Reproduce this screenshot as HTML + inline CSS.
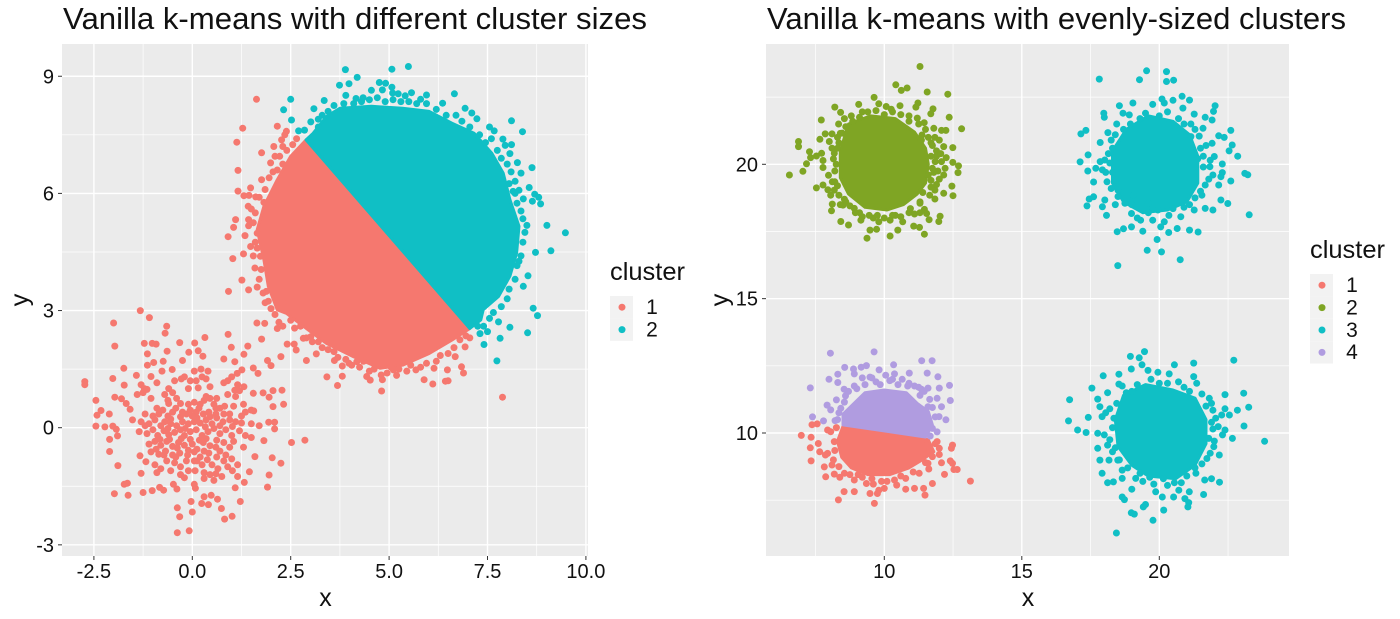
<!DOCTYPE html>
<html><head><meta charset="utf-8"><title>Vanilla k-means charts</title>
<style>html,body{margin:0;padding:0;background:#fff}svg{display:block}text{font-family:"Liberation Sans",sans-serif;fill:#111}</style>
</head><body>
<svg id="chart" xmlns="http://www.w3.org/2000/svg" width="1400" height="619" viewBox="0 0 1400 619"></svg>
<script>
const leftXTicks=[-2.5,0,2.5,5,7.5,10];
const leftXTickLabels=["-2.5","0.0","2.5","5.0","7.5","10.0"];
const leftXMinor=[-1.25,1.25,3.75,6.25,8.75];
const leftYTicks=[-3,0,3,6,9];
const leftYMinor=[-1.5,1.5,4.5,7.5];
const rightXTicks=[10,15,20];
const rightXMinor=[7.5,12.5,17.5,22.5];
const rightYTicks=[10,15,20];
const rightYMinor=[7.5,12.5,17.5,22.5];

const leftCoreRed=[[2.89,7.37],[7.05,2.54],[6.59,2.24],[6.02,1.9],[5.34,1.6],[4.77,1.52],[4.09,1.82],[3.41,2.16],[2.95,2.5],[2.39,2.93],[2.16,3.02],[1.93,3.62],[1.82,4.3],[1.65,5.07],[1.82,5.67],[2.16,6.35],[2.5,6.95]];
const leftCoreTeal=[[2.89,7.37],[3.07,7.54],[3.41,7.97],[3.75,8.18],[4.55,8.23],[5.34,8.18],[6.02,8.1],[6.59,7.8],[7.16,7.54],[7.61,7.03],[7.9,6.52],[8.07,5.84],[8.3,5.16],[8.24,4.47],[8.07,3.88],[7.78,3.36],[7.39,3.02],[7.33,2.76],[7.05,2.54]];
const leftTealPoints=[[3.89,9.17],[5.07,9.18],[5.49,9.25],[4.19,8.97],[3.74,8.77],[3.98,8.81],[4.75,8.84],[4.91,8.82],[4.83,8.65],[5.07,8.72],[4.55,8.64],[5.09,8.57],[5.23,8.55],[5.57,8.58],[5.41,8.5],[5.95,8.52],[6.66,8.55],[3.9,8.51],[4.16,8.43],[4.34,8.45],[3.35,8.38],[2.5,8.41],[2.32,8.14],[3.09,8.17],[2.52,7.88],[3.01,7.83],[5.8,8.41],[6.36,8.31],[6.93,8.18],[7.1,8.06],[7.23,7.91],[8.11,7.86],[7.55,7.7],[7.67,7.6],[8.39,7.58],[7.89,7.39],[8.11,7.25],[7.95,7.23],[8.07,7.02],[8.26,6.79],[8.63,6.66],[8.35,6.52],[8.2,6.31],[8.56,6.15],[8.3,6.08],[8.15,6.05],[8.7,5.98],[8.8,5.9],[8.64,5.8],[8.85,5.73],[8.41,5.86],[9.01,5.18],[8.5,5.18],[9.48,4.99],[9.11,4.53],[8.72,4.49],[8.3,4.26],[8.53,3.89],[8.41,3.62],[8.66,3.06],[8.77,2.87],[7.78,2.71],[8.07,2.57],[8.52,2.43],[7.82,2.29],[7.41,2.13],[7.74,1.71],[7.31,2.41],[7.5,2.46],[2.7,7.6],[2.85,7.62],[3.2,7.7]];
const leftTealEdgePoints=[[3.2,7.9],[3.3,8],[3.45,8.1],[3.6,8.25],[3.85,8.3],[4.1,8.3],[4.3,8.35],[4.5,8.4],[4.7,8.45],[4.9,8.35],[5.1,8.4],[5.3,8.35],[5.5,8.35],[5.7,8.3],[5.95,8.3],[6.2,8.15],[6.45,8],[6.7,8],[6.85,7.85],[7.05,7.7],[7.3,7.5],[7.45,7.3],[7.6,7.4],[7.75,7.1],[7.85,6.9],[8,6.75],[8.1,6.55],[8.05,6.25],[8.2,6],[8.25,5.75],[8.35,5.55],[8.4,5.35],[8.45,5],[8.4,4.75],[8.35,4.4],[8.25,4.15],[8.2,3.8],[8.05,3.55],[8,3.3],[7.85,3.1],[7.65,2.95],[7.55,2.8],[7.4,2.6],[7.25,2.6]];
const leftRedPoints=[[1.63,8.41],[1.28,7.67],[2.16,7.72],[1.13,7.31],[2.39,7.59],[2.27,7.37],[2.07,7.2],[1.76,7.04],[2.22,6.95],[1.16,6.59],[1.99,6.78],[2.16,6.6],[1.76,6.35],[1.16,6.06],[1.31,5.94],[1.48,6.14],[1.44,5.95],[1.61,5.91],[1.42,5.67],[1.82,5.77],[1.1,5.33],[1.05,5.13],[1.43,5.33],[1.43,5.17],[0.91,4.89],[1.34,4.92],[1.48,4.64],[1.3,4.45],[1.03,4.33],[1.65,4.98],[1.73,4.39],[1.59,4.09],[1.26,3.78],[1.43,3.53],[0.92,3.49],[1.88,3.49],[1.93,3.24],[1.64,2.68],[1.84,2.67],[2.16,2.54],[1.76,2.27],[1.41,2.09],[2.25,1.82],[1.91,1.72],[2,1.59],[2.41,2.14],[2.59,2.14],[2.64,1.99],[2.9,1.72],[3.15,1.89],[2.82,2.29],[3.01,2.33],[3.61,1.72],[3.81,1.58],[3.98,1.65],[4.18,1.69],[3.42,1.3],[3.81,1.32],[3.69,1.08],[4.43,1.31],[4.52,1.22],[4.83,1.23],[4.81,0.94],[5.19,1.34],[5.89,1.23],[6.11,1.12],[6.43,1.19],[6.5,1.2],[6.14,1.52],[6.48,1.48],[6.84,1.56],[6.89,1.4],[6.68,1.82],[6.93,2.07],[7.88,0.78],[5.11,1.48],[5.68,1.48]];
const leftRedEdgePoints=[[2.3,3.2],[2.1,2.9],[2.2,2.7],[2.3,2.6],[2.5,2.75],[2.6,2.55],[2.75,2.6],[2.9,2.3],[3.05,2.2],[3.2,2.2],[3.3,2.05],[3.45,2],[3.6,1.95],[3.7,1.8],[3.9,1.75],[4.05,1.6],[4.25,1.55],[4.35,1.7],[4.5,1.45],[4.62,1.5],[4.8,1.35],[4.95,1.4],[5.05,1.55],[5.25,1.5],[5.45,1.45],[5.55,1.6],[5.8,1.55],[5.95,1.65],[6.2,1.7],[6.3,1.85],[6.5,1.9],[6.65,2.05],[6.8,2.25],[6.95,2.35],[7.05,2.3],[1.75,4.05],[1.7,3.8],[1.8,3.45],[1.85,3.2],[2,3.05],[1.65,4.6],[1.6,4.75],[1.55,5.25],[1.6,5.5],[1.7,5.9],[1.85,6.1],[1.95,6.4],[2.05,6.55],[2.3,6.75],[2.4,7.1],[2.55,7.25],[2.65,7.4],[2.35,7.5],[2.3,7.2],[2.1,6.95],[1.5,5.6],[1.55,4.4],[1.65,3.6]];
const leftGaussianPoints=[[-2.73,1.1],[-2.73,1.18],[-2.45,.7],[-2.32,.44],[-2.42,.32],[-2.11,.35],[-2.45,.04],[-2.22,.02],[-2.02,.04],[-1.93,-.04],[-2.1,-.3],[-1.9,-.21],[-2.1,-.61],[-1.89,-.97],[-1.73,-1.45],[-1.65,-1.42],[-1.98,-1.69],[-1.63,-1.73],[-1.25,-1.66],[-1.02,-1.61],[-.83,-1.53],[-.73,-1.6],[-.39,-1.57],[-.48,-1.45],[.08,-1.55],[-.38,-2.05],[-.32,-2.28],[0,-2.16],[-.03,-1.89],[-.38,-2.69],[-.08,-2.64],[.24,-1.94],[.41,-1.97],[.3,-1.77],[.48,-1.73],[.64,-1.83],[.74,-2.07],[.82,-2.34],[1.01,-2.27],[1.22,-1.89],[1.09,-1.54],[1.32,-1.4],[1.91,-1.52],[1.95,-1.21],[1.45,-1.13],[2.25,-.91],[2.03,-.77],[1.59,-.74],[1.82,-.33],[2.52,-.38],[2.86,-.32],[2.09,-.03],[1.94,.14],[2.09,.14],[2.32,.6],[2.05,.54],[2.28,.96],[2.05,.95],[1.8,.89],[1.95,.78],[1.55,.88],[1.56,.43],[1.31,1.05],[1.08,.96],[1.26,1.48],[1.14,1.39],[1.55,1.53],[1.67,1.39],[1.31,1.88],[1.08,1.69],[.8,1.76],[.99,2.06],[.91,2.39],[.32,2.31],[.06,2.17],[-.32,2.18],[-.09,1.93],[.15,1.97],[.27,1.83],[-.25,1.72],[-.64,1.96],[-1.14,1.89],[-1.22,2.16],[-1.02,2.16],[-.92,2.14],[-1.32,3],[-1.09,2.82],[-.65,2.6],[-.69,2.42],[-2,2.68],[-1.97,2.09],[-1.74,1.52],[-2.02,1.26],[-1.73,1.09],[-1.97,.78],[-1.8,.74],[-1.68,.62],[-1.58,.47],[-1.52,.2],[-1.42,1.34],[-1.14,1.6],[-.98,1.67],[-.74,1.7],[-1.05,1.31],[-.77,1.45],[-.51,1.49],
[-1.3,1.1],[-1.22,1],[-1.15,.98],[-1.25,.9],[-.9,1.15],[-.6,1],[-.45,1.2],[-.28,1.25],[-.2,1.3],[-.05,1.2],[.1,1.2],[.25,1.3],[.35,1.25],[.05,1.45],[.22,1.5],[.4,1.45],[-.1,1],[.15,1.02],[.45,1.05],[.9,1.2],[1,1.3],[1.15,1.1],[.8,1.15],[-1.4,.85],[-1.05,.75],[-.7,.85],[-.5,.9],[-.4,.75],[-.62,.7],[-.3,.62],[-.1,.6],[.05,.65],[.2,.6],[.35,.8],[.45,.75],[.55,.6],[.7,.5],[.9,.85],[1.1,.8],[1.3,.6],[1.35,.4],[1.5,.45],[1.25,.3],[.95,.35],[.8,.35],[.6,.35],[.42,.4],[.28,.35],[.1,.4],[0,.3],[-.15,.35],[-.25,.4],[-.5,.4],[-.62,.3],[-.85,.35],[-1,.3],[-1.2,.35],[-1.3,.15],[-1.1,.1],[-.95,.2],[-.8,.05],[-.7,.15],[-.55,.1],[-.4,.05],[-.25,.15],[-.1,.1],[.05,.15],[.2,.12],[.35,.2],[.5,.1],[.62,.25],[.78,.15],[.95,.2],[1.1,.15],[1.25,.12],[1.5,.1],[1.7,.05],[-1.35,-.1],[-1.15,-.15],[-1,-.05],[-.88,-.2],[-.72,-.08],[-.6,-.18],[-.45,-.12],[-.3,-.05],[-.2,-.2],[-.05,-.1],[.1,-.05],[.25,-.2],[.4,-.1],[.55,-.02],[.7,-.15],[.85,-.05],[1,-.2],[1.2,-.08],[1.35,-.2],[1.5,-.25],[-1.1,-.42],[-.95,-.35],[-.8,-.45],[-.65,-.35],[-.5,-.48],[-.35,-.38],[-.2,-.45],[0,-.42],[.12,-.55],[.28,-.38],[.45,-.46],[.6,-.5],[.8,-.38],[1.05,-.35],[1.3,-.5],[-1.05,-.62],[-.85,-.68],[-.68,-.6],[-.5,-.7],[-.32,-.65],[-.12,-.7],[.05,-.62],[.2,-.75],[.42,-.65],[.62,-.75],[.85,-.7],[1,-.8],[-1.33,-.72],[-1.18,-.87],[-.95,-.95],[-.8,-1.05],[-.65,-.85],[-.45,-.9],[-.3,-1],[-.15,-.85],[.05,-.85],[.25,-.95],[.5,-.95],[.65,-1.05],[.9,-1],[1.15,-.95],[-1.3,-1.17],[-.9,-1.15],[-.55,-1.1],[-.3,-1.2],[-.2,-1.28],[-.1,-1.1],[.07,-1.1],[.3,-1.15],[.45,-1.2],[.6,-1.18],[.75,-1.25],[1.02,-1.1],[1.15,-1.25],[.3,-1.3],[.55,-1.35],[.05,-1.45],
[-.75,.45],[-.42,.5],[-.05,.45],[.17,.5],[.6,.5],[.82,.55],[1.05,.55],[-.9,.5],[-.82,-.3],[-.58,-.3],[-.28,-.28],[-.05,-.3],[.18,-.32],[.35,-.28],[.62,-.32],[.95,-.5],[-.92,-.55],[-.72,-.7],[-.38,-.52],[-.1,-.58],[.3,-.6],[.7,-.6],[-.55,.22],[-.3,.28],[.12,.25],[.45,.28],[.7,.05],[1.02,.03],[-.18,-.02],[.33,.02],[-.62,-.02],[-1.2,.05],[-.42,-.75],[.12,-.85],[.38,-.82],[.8,-.85],[-.6,.62],[.3,.7],[.62,.75],[1.2,.95]];

const rightCoreGreen=[[8.7,21.5],[9.5,21.8],[10.4,21.7],[11.1,21.2],[11.5,20.6],[11.6,20],[11.5,19.3],[11.2,18.9],[10.7,18.5],[10.1,18.3],[9.3,18.4],[8.7,18.9],[8.4,19.5],[8.4,20.5]];
const rightGreenPoints=[[11.3,23.64],[10.42,22.96],[10.83,22.84],[10.62,22.75],[11.56,22.69],[12.31,22.61],[9.63,22.49],[9.8,22.25],[9.07,22.23],[8.2,22.13],[10.07,22.15],[10.57,22.18],[11.22,22.28],[11.15,22.13],[11.77,22.06],[11.69,21.88],[8.41,21.93],[7.71,21.65],[12.36,21.75],[8.34,21.5],[11.2,21.72],[12.81,21.32],[11.8,21.34],[12.08,21.26],[12.24,21.26],[7.85,21.13],[8.1,21.13],[7.66,20.93],[8.47,21.16],[6.88,20.85],[6.88,20.66],[11.37,21.09],[11.84,21],[12.16,20.66],[12.49,20.62],[7.28,20.47],[7.72,20.41],[7.53,20.31],[7.32,20.25],[7.17,20.02],[7.77,20.14],[8.1,20.6],[8.18,20.41],[12.49,20.07],[12.7,19.94],[12.68,19.69],[12.08,20.1],[12.21,19.85],[12.16,19.6],[6.55,19.6],[7.04,19.74],[7.97,19.59],[7.77,19.88],[8.11,19.35],[7.53,19.12],[7.77,19.23],[8.18,19.04],[12.46,19.19],[12.5,18.83],[11.84,19.04],[12.16,18.92],[11.84,18.71],[8.11,18.52],[8.08,18.27],[8.5,18.48],[8.91,18.36],[11.46,18.32],[11.54,18.17],[12.03,18.07],[11.63,17.94],[11.98,17.87],[8.42,17.87],[8.7,17.74],[9.15,17.92],[9.8,17.86],[10.21,17.92],[10.67,17.86],[11.07,17.7],[11.28,17.65],[9.48,17.55],[9.72,17.58],[10.49,17.55],[11.46,17.4],[9.37,17.25],[10.21,17.33],[8.3,21],[8.25,20],[8.3,19.2],[8.6,18.6],[9.1,18.2],[9.6,18],[10.4,18.1],[10.9,18.2],[11.3,18.6],[11.7,19.4],[11.8,19.7],[11.9,20.3],[11.7,20.8],[11.5,21.3],[10.9,21.6],[10.3,21.95],[9.2,21.95],[8.8,21.8],
[11.6,21],[11.75,20.7],[11.9,20.5],[12,20.9],[11.7,20.3],[11.85,20.1],[11.95,19.75],[12,19.45],[11.7,19.15],[11.65,18.85],[11.3,18.55],[11.1,18.15],[10.95,18.35],[10.6,18.05],[10.3,18.1],[10,18],[9.75,18.1],[9.45,18.1],[9.2,18.05],[8.95,18.2],[8.75,18.45],[8.55,18.7],[8.35,18.85],[8.2,19.35],[8.2,19.75],[8.15,20.2],[8.35,20.8],[8.4,21.15],[8.6,21.4],[8.55,21.7],[8.85,21.6],[9.1,21.75],[9.4,21.95],[9.7,22],[10,21.85],[10.25,22.05],[10.6,21.85],[10.9,21.8],[11.25,21.5],[11.45,21.55],[11.35,20.9],[12.05,20.4],[11.75,19.85],[11.6,19.6],[11.9,19.25],[11.4,18.95],[12.25,20.25],[11.3,18.2],[8,20.85],[8.3,20.6],[8.4,18.5],[7.95,19.05],[8.05,18.85]];
const rightCoreTealTop=[[18.8,21.3],[19.6,21.8],[20.5,21.6],[21.1,21.1],[21.4,20.3],[21.4,19.3],[21,18.6],[20.3,18.3],[19.4,18.2],[18.7,18.6],[18.3,19.3],[18.3,20.5]];
const rightTealTopPoints=[[17.82,23.17],[19.54,23.48],[19.28,23.15],[20.26,23.45],[20.26,23.08],[20.52,23.13],[20.83,22.53],[21.1,22.39],[20.1,22.43],[20.5,22.38],[22.03,22.18],[18.55,22.18],[19.04,22.28],[19.76,22.23],[20.18,22.28],[20.86,22.09],[18.68,21.9],[17.98,21.9],[18,21.75],[18.91,21.84],[21.27,21.87],[21.97,21.97],[21.67,21.75],[21.92,21.65],[22.6,21.26],[21.59,21.34],[17.33,21.26],[17.15,21.13],[22.16,21.06],[22.36,21],[21.15,21.03],[18.13,21.18],[17.85,20.81],[21.92,20.78],[22.65,20.72],[22.54,20.5],[17.41,20.35],[17.12,20.09],[18.02,20.16],[22.85,20.3],[22,20.29],[17.4,19.75],[17.69,19.85],[17.93,19.79],[22.29,20.01],[21.84,19.91],[23.11,19.66],[23.22,19.61],[22.29,19.69],[22.6,19.38],[17.61,19.34],[18.1,19.35],[22.24,19.54],[21.67,19.23],[22.16,19.23],[17.61,18.79],[17.45,18.71],[17.37,18.45],[18.02,18.67],[17.93,18.42],[18.5,19.04],[22.24,18.67],[22.49,18.54],[21.95,18.3],[21.27,18.3],[21.67,18.36],[18.08,18.1],[23.27,18.12],[18.99,18.17],[19.32,17.92],[19.76,17.92],[20.18,17.86],[20.78,18.05],[18.47,17.49],[18.7,17.6],[18.99,17.67],[19.4,17.51],[20.05,17.67],[20.34,17.46],[20.65,17.61],[21.1,17.55],[21.41,17.48],[19.92,17.2],[19.56,16.8],[20.08,16.74],[20.76,16.45],[18.49,16.23],[18.7,21.3],[19.3,21.7],[20,21.8],[20.7,21.7],[21.3,21.3],[21.5,20.6],[21.6,19.9],[21.5,19],[21.1,18.5],[20.5,18.35],[19.6,18.2],[19,18.5],[18.5,18.8],[18.3,19.7],[18.3,20.6],
[21.45,21.05],[21.7,20.7],[21.6,20.3],[21.85,20.15],[21.95,19.6],[21.8,19.45],[21.55,18.85],[21.3,18.75],[20.9,18.4],[20.35,18.1],[19.95,18.3],[19.6,18.55],[19.2,18],[19.05,18.85],[18.75,18.55],[18.4,18.5],[18.25,19.1],[18.05,19.7],[18.2,20.05],[18.25,20.9],[18.4,21.1],[18.45,21.5],[18.95,21.5],[19.5,21.9],[20.3,21.95],[20.9,21.5],[21.15,21.5],[21.4,20.2],[18.15,20.4],[18.4,19.4],[17.85,20.1]];
const rightCoreTealBottom=[[18.7,11.4],[19.5,11.8],[20.5,11.6],[21.3,11.3],[21.7,10.5],[21.7,9.6],[21.3,8.8],[20.6,8.3],[19.6,8.4],[19,8.8],[18.5,9.5],[18.4,10.5]];
const rightTealBottomPoints=[[19.46,13.03],[18.95,12.85],[19.27,12.8],[20.55,12.54],[21.25,12.6],[22.71,12.71],[19.37,12.54],[18.98,12.38],[17.96,12.13],[18.53,12.19],[19.59,12.33],[19.95,12.26],[20.36,12.2],[21.25,12.1],[18.53,11.82],[21.36,11.85],[17.55,11.67],[23.07,11.48],[22.39,11.43],[16.74,11.24],[18.12,11.5],[21.82,11.29],[17.76,11.26],[23.25,10.96],[22.84,10.85],[22.39,10.9],[22.55,10.67],[22.27,10.67],[17.84,10.98],[17.92,10.61],[17.42,10.58],[16.7,10.45],[23.08,10.26],[22.14,10.24],[22.39,10.11],[17.03,10.11],[17.34,10.02],[17.76,9.99],[18,9.93],[22.66,9.8],[22.3,9.93],[23.83,9.69],[17.76,9.43],[18.12,9.55],[21.98,9.49],[22.18,9.18],[17.84,8.99],[18.17,8.99],[18.49,8.99],[21.73,9.05],[17.92,8.5],[18.65,8.62],[18.12,8.15],[18.33,8.18],[18.65,8.31],[22.19,8.17],[21.9,8.3],[21.65,8.25],[21.33,8.5],[19,7.91],[19.14,8.31],[18.65,7.62],[18.73,7.52],[19.87,7.81],[20.11,7.62],[20.52,7.62],[20.71,7.87],[21.61,7.71],[21.09,7.81],[20.93,7.56],[21.07,7.41],[21.04,7.25],[19.42,7.25],[19.5,7.34],[18.98,7.03],[19.09,6.98],[20.16,7.13],[19.77,6.75],[18.44,6.28],[19.8,8.1],[20.3,8.05],[20.8,8.15],[19.4,8.2],[21.8,9.8],[21.9,10.4],[21.7,11],[18.3,9.3],[18.3,10.2],[18.2,10.9],[18.8,11.5],[19.2,11.8],[20,11.85],[20.9,11.7],
[21.55,11.45],[21.9,11.1],[22.05,10.55],[21.95,10.15],[22,9.7],[21.85,9.25],[21.55,8.85],[21.3,8.7],[21,8.4],[20.55,8.15],[20.15,8.3],[19.65,8.35],[19.3,8.5],[18.85,8.7],[18.55,9],[18.4,9.45],[18.2,9.75],[18.35,10.55],[18.05,10.75],[18.45,11.1],[18.65,11.75],[19,11.55],[19.7,12],[20.3,11.85],[20.7,11.9],[21.1,11.55],[21.95,10.85]];
const rightCorePurple=[[8.5,10.3],[11.5,9.85],[11.75,10.3],[11.6,10.8],[11.2,11.1],[10.8,11.5],[10,11.6],[9.3,11.5],[8.8,11],[8.5,10.7]];
const rightPurplePoints=[[8.04,12.97],[9.63,13.02],[11.36,12.69],[11.74,12.69],[10.34,12.54],[9.35,12.51],[9.16,12.45],[8.56,12.44],[8.88,12.38],[8.91,12.2],[8.31,12.19],[9.81,12.35],[10.91,12.23],[11.56,12.23],[11.95,12.09],[10.37,12.2],[9.48,12.08],[7.99,12],[8.31,11.88],[7.31,11.68],[12.37,11.77],[12,11.67],[8.54,11.63],[8.91,11.75],[11.1,11.75],[11.59,11.67],[11.35,11.63],[8.59,11.38],[8.26,11.23],[11.92,11.29],[12.4,11.21],[7.92,11.04],[8.05,10.86],[8.42,10.92],[12.08,10.98],[11.59,10.98],[7.39,10.6],[7.79,10.45],[8.21,10.46],[12.24,10.49],[11.99,10.61],[11.92,10.04],[11.75,10.17],[11.67,9.89],[9.7,11.9],[10.3,12],[10.5,11.8],[9.3,11.8],[11.3,11.4],[10.9,11.85],
[9.2,12.05],[9.55,12.05],[10.05,12.15],[10.2,11.95],[10.65,12],[10.85,11.75],[11.45,11.55],[11.65,11.25],[11.75,10.95],[11.85,10.6],[8.55,11.15],[8.7,11.55],[9,11.65],[8.35,10.75],[8.3,10.5],[9.85,11.8],[11.25,11.7]];
const rightCoreRed=[[8.5,10.25],[9,10.25],[11.6,9.75],[11.8,9.3],[11.3,8.95],[10.9,8.7],[10.2,8.45],[9.4,8.45],[8.8,8.7],[8.45,9.1],[8.3,9.7]];
const rightRedPoints=[[7.37,10.31],[7.56,10.34],[6.98,9.91],[7.34,9.84],[7.94,10.11],[8.26,10.2],[7.6,9.61],[7.31,9.45],[7.65,9.3],[7.94,9.24],[7.34,8.96],[8.18,9.68],[7.86,9.18],[7.82,8.74],[8.1,8.81],[7.87,8.37],[8.18,8.47],[8.38,8.35],[8.91,8.25],[9.35,8.12],[8.54,7.82],[8.91,7.82],[9.48,7.75],[9.8,7.87],[10,7.94],[8.33,7.51],[9.64,7.38],[10.37,8.25],[10.78,8.31],[10.45,8.06],[10.78,7.91],[11.1,7.94],[11.43,7.94],[11.48,7.69],[11.75,8.12],[12.19,8.46],[12.53,8.64],[12.65,8.64],[13.13,8.21],[12.08,8.89],[12.4,8.96],[12.48,8.87],[12.48,9.55],[12.44,9.43],[11.92,9.68],[12,9.43],[11.75,9.12],[11.59,8.87],[11.62,8.66],[11.27,8.5],[11.43,9.24],[9.6,8.1],[9.9,8.2],[9.2,8.35],[9.75,7.75],
[8.05,10.05],[8.2,9.35],[8.15,9],[8.35,8.75],[8.55,8.5],[8.75,8.45],[9.05,8.45],[9.55,8.3],[10.1,8.2],[10.6,8.4],[11.05,8.55],[11.5,8.9],[11.65,9.4],[11.85,9.6],[11.55,9.55],[12,9.2]];

const leftLegendLabels=["1","2"];
const rightLegendLabels=["1","2","3","4"];
const leftTitle="Vanilla k-means with different cluster sizes";
const rightTitle="Vanilla k-means with evenly-sized clusters";

const RED="#F5786F",TEAL="#10BFC5",GREEN="#7FA524",PURPLE="#B09CE0";
const svg=document.getElementById('chart');
const NS="http://www.w3.org/2000/svg";
function mk(tag,attrs,name,parent){
  const el=document.createElementNS(NS,tag);
  for(const k in attrs)el.setAttribute(k,attrs[k]);
  
  
  (parent||svg).appendChild(el);
  return el;
}
function label(txt,x,y,size,anchor,name,len,parent){
  const a={x:x,y:y,'font-size':size,'text-anchor':anchor};
  if(len){a.textLength=len;a.lengthAdjust='spacingAndGlyphs';}
  const t=mk('text',a,name,parent);
  t.textContent=txt;
  return t;
}
function panel(p){
  const g=mk('g',{},p.id+'-plot');
  const sx=v=>p.x0+(v-p.xa)*p.xk, sy=v=>p.y0-(v-p.ya)*p.yk;
  mk('rect',{x:p.l,y:p.t,width:p.r-p.l,height:p.b-p.t,fill:'#ebebeb'},p.id+'-panel-background',g);
  p.xMinor.forEach(v=>mk('line',{x1:sx(v),x2:sx(v),y1:p.t,y2:p.b,stroke:'#fff','stroke-width':.7},'x-minor-gridline',g));
  p.yMinor.forEach(v=>mk('line',{x1:p.l,x2:p.r,y1:sy(v),y2:sy(v),stroke:'#fff','stroke-width':.7},'y-minor-gridline',g));
  p.xTicks.forEach((v,i)=>{
    mk('line',{x1:sx(v),x2:sx(v),y1:p.t,y2:p.b,stroke:'#fff','stroke-width':1.4},'x-major-gridline',g);
    mk('line',{x1:sx(v),x2:sx(v),y1:p.b,y2:p.b+4,stroke:'#333','stroke-width':1},'x-tick',g);
    label(p.xLabels[i],sx(v),578,20,'middle','x-tick-label',null,g);
  });
  p.yTicks.forEach(v=>{
    mk('line',{x1:p.l-4,x2:p.l,y1:sy(v),y2:sy(v),stroke:'#333','stroke-width':1},'y-tick',g);
    mk('line',{x1:p.l,x2:p.r,y1:sy(v),y2:sy(v),stroke:'#fff','stroke-width':1.4},'y-major-gridline',g);
    label(String(v),p.l-8,sy(v)+7,20,'end','y-tick-label',null,g);
  });
  p.core.forEach(c=>{
    const d=c[0].map((q,i)=>(i?'L':'M')+sx(q[0]).toFixed(1)+' '+sy(q[1]).toFixed(1)).join('')+'Z';
    mk('path',{d:d,fill:c[1],stroke:c[1],'stroke-width':3,'stroke-linejoin':'round'},'dense-cluster-core',g);
  });
  p.points.forEach(s=>s[0].forEach(q=>{
    mk('circle',{cx:sx(q[0]).toFixed(1),cy:sy(q[1]).toFixed(1),r:3.5,fill:s[1]},'cluster-point',g);
  }));
  label('x',p.xTitleX,606,25,'middle','x-axis-title',null,g);
  const yt=label('y',0,0,25,'middle','y-axis-title',null,g);
  yt.setAttribute('transform','translate('+p.yTitleX+',300) rotate(-90)');
  label(p.title,p.titleX,29,31,'start','chart-title',p.titleLen,g);
  label('cluster',p.legX,p.legBase,25,'start','legend-title',75,g);
  const kh=22.4;
  p.legLabels.forEach((s,i)=>{
    const top=p.legTop+i*kh;
    mk('rect',{x:p.legX,y:top,width:23,height:kh,fill:'#f2f2f2'},'legend-key',g);
    mk('circle',{cx:p.legX+12,cy:top+kh/2,r:3.5,fill:p.legColors[i]},'legend-dot',g);
    label(s,p.legX+42,top+18,21,'middle','legend-label',null,g);
  });
}
panel({id:'left',l:62,r:588,t:44,b:556,x0:192.3,xa:0,xk:39.36,y0:427.7,ya:0,yk:39.05,
  xTicks:leftXTicks,xLabels:leftXTickLabels,xMinor:leftXMinor,yTicks:leftYTicks,yMinor:leftYMinor,
  core:[[leftCoreRed,RED],[leftCoreTeal,TEAL]],
  points:[[leftRedPoints,RED],[leftRedEdgePoints,RED],[leftGaussianPoints,RED],[leftTealPoints,TEAL],[leftTealEdgePoints,TEAL]],
  xTitleX:325.5,yTitleX:28,title:leftTitle,titleX:63,titleLen:584,
  legX:610,legBase:280,legTop:296,legLabels:leftLegendLabels,legColors:[RED,TEAL]});
panel({id:'right',l:766,r:1289,t:44,b:556,x0:884.3,xa:10,xk:27.5,y0:433,ya:10,yk:26.87,
  xTicks:rightXTicks,xLabels:rightXTicks.map(String),xMinor:rightXMinor,yTicks:rightYTicks,yMinor:rightYMinor,
  core:[[rightCoreGreen,GREEN],[rightCoreTealTop,TEAL],[rightCoreTealBottom,TEAL],[rightCoreRed,RED],[rightCorePurple,PURPLE]],
  points:[[rightRedPoints,RED],[rightPurplePoints,PURPLE],[rightGreenPoints,GREEN],[rightTealTopPoints,TEAL],[rightTealBottomPoints,TEAL]],
  xTitleX:1028,yTitleX:728,title:rightTitle,titleX:767,titleLen:579,
  legX:1310,legBase:258,legTop:274,legLabels:rightLegendLabels,legColors:[RED,GREEN,TEAL,PURPLE]});
</script>
</body></html>
